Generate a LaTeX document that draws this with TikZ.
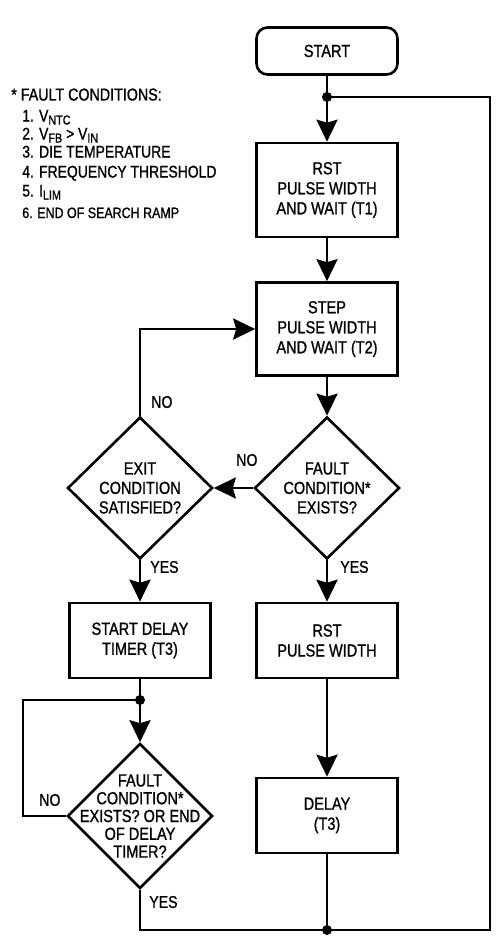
\documentclass[tikz,border=0pt]{standalone}
\usepackage{fontspec}
\setmainfont{Liberation Sans}[FakeStretch=0.83,FakeBold=1]
\usetikzlibrary{arrows.meta,shapes.geometric}
\newcommand\lsub[1]{\raisebox{-3pt}{\fontsize{13}{13}\selectfont #1}}
\begin{document}
\begin{tikzpicture}[x=1pt,y=-1pt,line width=2.6pt,
  box/.style={draw, rectangle, minimum width=141pt, inner sep=0pt, align=center,
              font=\fontsize{17.5}{20}\selectfont},
  dmd/.style={draw, diamond, minimum width=145pt, minimum height=142pt, inner sep=0pt},
  dtext/.style={align=center, inner sep=0pt, font=\fontsize{17.5}{19.5}\selectfont},
  lbl/.style={anchor=west, inner sep=0pt, font=\fontsize{17}{18}\selectfont},
  note/.style={anchor=base west, inner sep=0pt, font=\fontsize{16.8}{18}\selectfont},
  arr/.style={-{Stealth[length=22pt,width=21pt,inset=3pt]}}]
\useasboundingbox (0,0) rectangle (500,939);

% notes
\node[note, font=\fontsize{17.2}{18}\selectfont] (n0) at (10,100.5) {* FAULT CONDITIONS:};
\node[note] (n1) at (21,121.5) {1. V\lsub{NTC}};
\node[note] (n2) at (21,139.5) {2. V\lsub{FB} > V\lsub{IN}};
\node[note] (n3) at (21,157.5) {3. DIE TEMPERATURE};
\node[note] (n4) at (21,177.5) {4. FREQUENCY THRESHOLD};
\node[note] (n5) at (21,196.5) {5. I\lsub{LIM}};
\node[note, font=\fontsize{15}{16}\selectfont] (n6) at (21,218) {6. END OF SEARCH RAMP};

% nodes
\node[box, minimum height=47pt, rounded corners=11pt] (start) at (327,51) {START};
\node[box, minimum height=94pt] (rst1) at (327,190) {RST\\PULSE WIDTH\\AND WAIT (T1)};
\node[box, minimum height=93pt] (step) at (327,329) {STEP\\PULSE WIDTH\\AND WAIT (T2)};
\node[dmd] (fault) at (327,488) {};
\node[dtext] (faultT) at (327,488) {FAULT\\CONDITION*\\EXISTS?};
\node[dmd] (exit) at (140,488) {};
\node[dtext] (exitT) at (140,488) {EXIT\\CONDITION\\SATISFIED?};
\node[box, minimum height=75pt] (sdt) at (140,640.5) {START DELAY\\TIMER (T3)};
\node[box, minimum height=75pt] (rstpw) at (327,640.5) {RST\\PULSE WIDTH};
\node[box, minimum height=75pt] (delay) at (327,815.5) {DELAY\\(T3)};
\node[dmd, minimum height=145pt] (fault2) at (140,816) {};
\node[dtext, font=\fontsize{17.5}{17.8}\selectfont] (fault2T) at (140,816) {FAULT\\CONDITION*\\EXISTS? OR END\\OF DELAY\\TIMER?};

% junctions
\coordinate (j1) at (327,97);
\coordinate (j2) at (140,700);
\coordinate (j3) at (327,930);
\coordinate (c1) at (23,816);
\coordinate (c2) at (140,930);
\coordinate (c3) at (490,930);

% connectors
\draw (start) -- (j1);
\draw[arr] (j1) -- (rst1);
\draw[arr] (rst1) -- (step);
\draw[arr] (step) -- (fault);
\draw[arr] (fault) -- (exit);
\draw[arr] (exit.north) |- (step.west);
\draw[arr] (exit) -- (sdt);
\draw[arr] (fault) -- (rstpw);
\draw[arr] (rstpw) -- (delay);
\draw (sdt) -- (j2);
\draw[arr] (j2) -- (fault2);
\draw (fault2.west) -- (c1) |- (j2);
\draw (fault2.south) -- (c2) -- (c3) |- (j1);
\draw (delay) -- (j3);

\fill (j1) circle (5pt);
\fill (j2) circle (5pt);
\fill (j3) circle (5pt);

% labels
\node[lbl] (noA) at (150,402) {NO};
\node[lbl] (noB) at (235,460) {NO};
\node[lbl] (yesA) at (149,567) {YES};
\node[lbl] (yesB) at (339,567) {YES};
\node[lbl] (noC) at (38,800) {NO};
\node[lbl] (yesC) at (148,902) {YES};
\end{tikzpicture}
\end{document}
